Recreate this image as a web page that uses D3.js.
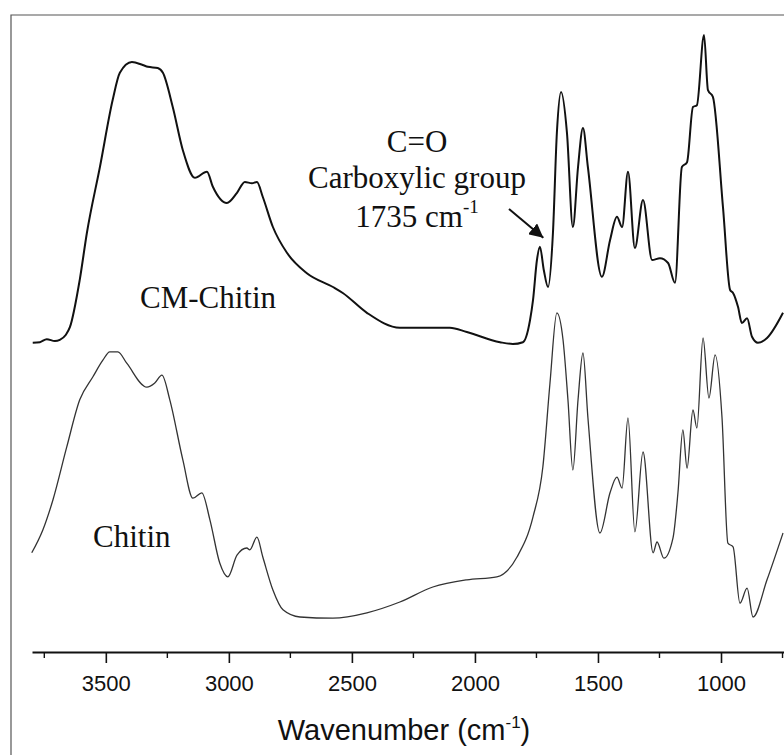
<!DOCTYPE html>
<html>
<head>
<meta charset="utf-8">
<script src="https://cdn.jsdelivr.net/npm/d3@7"></script>
<style>
  body { margin: 0; background: #fff; }
  svg { display: block; }
</style>
</head>
<body>
<div id="chart-area"></div>
<script>
// wavenumber (cm-1) and transmittance (a.u.)
var cmWave = [3797,3768,3740,3707,3687,3663,3646,3606,3577,3524,3472,3443,3394,3350,3329,3289,3268,3228,3187,3138,3089,3065,3008,2967,2935,2906,2886,2862,2821,2764,2683,2577,2537,2439,2305,2102,2033,1898,1846,1805,1776,1764,1748,1736,1720,1703,1683,1667,1650,1626,1602,1581,1561,1541,1484,1451,1423,1402,1378,1350,1317,1280,1248,1215,1187,1159,1138,1114,1098,1069,1053,1033,992,963,951,931,915,894,874,850,813,748];
var cmVal  = [51.2,51.3,51.8,51.5,51.7,52.5,53.8,61.7,69.5,80.5,91.7,96.2,98.0,97.5,97.2,97.0,96.2,90.5,83.3,78.7,79.7,77.2,74.5,76.2,78.0,77.8,78.0,75.5,70.5,66.2,62.8,60.5,59.5,56.2,53.7,53.7,53.0,51.3,51.0,51.3,55.0,58.3,65.0,67.2,63.3,60.5,69.5,86.2,93.0,86.2,70.5,80.5,87.0,80.5,62.2,68.3,72.2,70.5,79.7,67.0,75.0,65.0,65.3,64.5,61.2,80.5,81.3,90.5,90.8,102.5,93.3,92.2,73.8,60.0,59.5,57.2,54.5,55.3,52.2,51.2,52.0,56.2];

var chWave = [3801,3756,3715,3659,3606,3553,3512,3484,3451,3415,3333,3301,3272,3240,3187,3146,3110,3077,3037,3004,2967,2927,2915,2886,2862,2821,2780,2711,2577,2439,2305,2171,2033,1911,1829,1764,1724,1695,1667,1642,1622,1602,1581,1561,1541,1492,1451,1423,1402,1378,1350,1317,1276,1260,1232,1195,1175,1155,1138,1114,1098,1073,1049,1024,996,972,951,923,894,870,813,748];
var chVal  = [16.2,20.0,25.0,33.8,41.7,45.5,48.3,49.7,49.7,47.8,43.8,44.5,45.8,41.7,31.7,25.3,26.2,21.7,14.5,12.2,15.8,17.0,16.7,18.8,15.5,10.0,6.7,5.5,5.3,6.2,8.0,10.5,11.7,12.2,15.5,22.2,30.5,44.5,56.2,51.7,41.7,30.0,41.7,49.5,38.8,19.5,26.2,28.8,27.0,38.7,19.7,33.0,16.2,18.0,15.3,18.7,26.2,36.7,30.3,40.0,37.0,52.0,42.0,49.2,38.8,17.8,17.2,7.8,10.3,5.5,11.7,19.5];

var majorTicks = [3500, 3000, 2500, 2000, 1500, 1000];
var minorTicks = [3750, 3250, 2750, 2250, 1750, 1250, 750];

var width = 784, height = 755;
var svg = d3.select("#chart-area").append("svg").attr("width", width).attr("height", height);

var x = d3.scaleLinear().domain([3800, 744]).range([32, 784]);
var y = d3.scaleLinear().domain([0, 100]).range([650, 50]);

// frame (only left and top edges show)
svg.append("path")
  .attr("d", "M11,755V15H784")
  .attr("fill", "none")
  .attr("stroke", "#555")
  .attr("stroke-width", 1.2);

// bottom axis
var axisY = 652;
var gx = svg.append("g").attr("transform", "translate(0," + axisY + ")");
gx.call(d3.axisBottom(x).tickValues(majorTicks).tickSize(11).tickSizeOuter(0).tickFormat(d3.format("d")));
gx.select(".domain").attr("stroke", "#111").attr("stroke-width", 1.8);
gx.selectAll(".tick line").attr("stroke", "#111").attr("stroke-width", 1.6);
gx.selectAll(".tick text")
  .attr("y", 39).attr("dy", null)
  .attr("fill", "#111")
  .style("font-family", "'Liberation Sans', Arial, sans-serif")
  .style("font-size", "22px");

gx.selectAll(".minor").data(minorTicks).enter().append("line")
  .attr("class", "minor")
  .attr("x1", d => x(d)).attr("x2", d => x(d))
  .attr("y1", 0).attr("y2", 6)
  .attr("stroke", "#111").attr("stroke-width", 1.4);

var title = svg.append("text")
  .attr("x", 404).attr("y", 740)
  .attr("text-anchor", "middle")
  .attr("fill", "#111")
  .style("font-family", "'Liberation Sans', Arial, sans-serif")
  .style("font-size", "29px");
title.append("tspan").text("Wavenumber (cm");
title.append("tspan").attr("dy", -12).style("font-size", "17px").text("-1");
title.append("tspan").attr("dy", 12).text(")");

// spectra
var line = d3.line()
  .x(d => x(d[0]))
  .y(d => y(d[1]))
  .curve(d3.curveMonotoneX);

svg.append("path")
  .datum(chWave.map((w, i) => [w, chVal[i]]))
  .attr("d", line)
  .attr("fill", "none")
  .attr("stroke", "#333")
  .attr("stroke-width", 1.3);

svg.append("path")
  .datum(cmWave.map((w, i) => [w, cmVal[i]]))
  .attr("d", line)
  .attr("fill", "none")
  .attr("stroke", "#111")
  .attr("stroke-width", 2);

// labels
var serif = "'Liberation Serif', 'Times New Roman', serif";
svg.append("text").attr("x", 140).attr("y", 308)
  .style("font-family", serif).style("font-size", "31px").attr("fill", "#111")
  .text("CM-Chitin");
svg.append("text").attr("x", 93).attr("y", 547)
  .style("font-family", serif).style("font-size", "31px").attr("fill", "#111")
  .text("Chitin");

var note = svg.append("g")
  .style("font-family", serif).style("font-size", "31px")
  .attr("fill", "#111").attr("text-anchor", "middle");
note.append("text").attr("x", 417).attr("y", 152).text("C=O");
note.append("text").attr("x", 417).attr("y", 188).text("Carboxylic group");
var n3 = note.append("text").attr("x", 417).attr("y", 227);
n3.append("tspan").text("1735 cm");
n3.append("tspan").attr("dy", -14).style("font-size", "19px").text("-1");

// arrow to the 1735 band
svg.append("defs").append("marker")
  .attr("id", "head")
  .attr("viewBox", "0 0 10 10")
  .attr("refX", 10).attr("refY", 5)
  .attr("markerWidth", 14).attr("markerHeight", 14)
  .attr("markerUnits", "userSpaceOnUse")
  .attr("orient", "auto")
  .append("path").attr("d", "M0,0L10,5L0,10Z").attr("fill", "#111");

svg.append("line")
  .attr("x1", 509).attr("y1", 209)
  .attr("x2", x(1722)).attr("y2", y(68.7))
  .attr("stroke", "#111").attr("stroke-width", 2)
  .attr("marker-end", "url(#head)");
</script>
</body>
</html>
